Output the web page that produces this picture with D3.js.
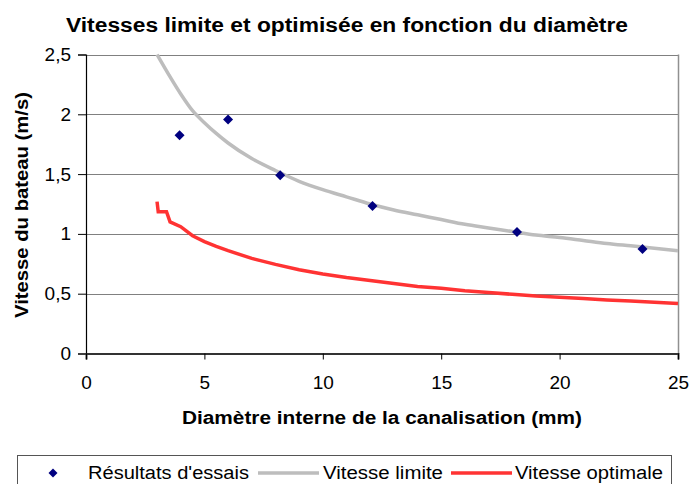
<!DOCTYPE html>
<html><head><meta charset="utf-8">
<script src="https://cdn.jsdelivr.net/npm/d3@7"></script>
<style>body{margin:0;background:#fff}svg{display:block;font-family:"Liberation Sans",Arial,sans-serif}</style>
</head><body><svg id="c" width="690" height="484"></svg>
<script>
const essaisD = [3.95, 6.0, 8.2, 12.1, 18.2, 23.5];
const essaisV = [1.825, 1.956, 1.49, 1.233, 1.016, 0.874];
const limiteD = [3, 3.5, 4, 4.5, 5, 5.5, 6, 7, 8, 9, 10, 11, 12, 13, 14, 15, 16, 17, 18, 19, 20, 21, 22, 23, 24, 25];
const limiteV = [2.5, 2.33, 2.17, 2.03, 1.93, 1.84, 1.76, 1.63, 1.53, 1.44, 1.37, 1.31, 1.25, 1.2, 1.16, 1.12, 1.08, 1.05, 1.02, 0.99, 0.97, 0.945, 0.92, 0.9, 0.88, 0.86];
const optD = [3, 3.05, 3.4, 3.55, 4, 4.5, 5, 5.5, 6, 7, 8, 9, 10, 11, 12, 13, 14, 15, 16, 17, 18, 19, 20, 21, 22, 23, 24, 25];
const optV = [1.27, 1.185, 1.185, 1.10, 1.06, 0.985, 0.935, 0.895, 0.86, 0.795, 0.745, 0.70, 0.665, 0.635, 0.61, 0.585, 0.56, 0.545, 0.525, 0.51, 0.495, 0.48, 0.47, 0.46, 0.448, 0.438, 0.428, 0.418];
const xTicks = [0, 5, 10, 15, 20, 25];
const yTicks = [0, 0.5, 1, 1.5, 2, 2.5];
const labels = {title: "Vitesses limite et optimisée en fonction du diamètre", x: "Diamètre interne de la canalisation (mm)", y: "Vitesse du bateau (m/s)", legend: ["Résultats d'essais", "Vitesse limite", "Vitesse optimale"]};

const svg = d3.select("#c");
const L = 86, R = 678, T = 54.5, B = 353.5;
const x = d3.scaleLinear().domain([0, 25]).range([L, R]);
const y = d3.scaleLinear().domain([0, 2.5]).range([B, T]);
const fmt = v => String(v).replace(".", ",");
const FONT = "Liberation Sans, Arial, sans-serif";

// gridlines
svg.append("g").selectAll("line").data(yTicks.filter(v => v > 0)).join("line")
  .attr("x1", L).attr("x2", R).attr("y1", d => Math.round(y(d)) + 0.5).attr("y2", d => Math.round(y(d)) + 0.5)
  .attr("stroke", "#808080").attr("stroke-width", 1);
// right border
svg.append("line").attr("x1", R + 0.5).attr("x2", R + 0.5).attr("y1", T).attr("y2", B).attr("stroke", "#909090").attr("stroke-width", 1.5);

// axes
const yAxis = svg.append("g").attr("transform", `translate(${L},0)`)
  .call(d3.axisLeft(y).tickValues(yTicks).tickFormat(fmt).tickSize(8).tickPadding(7));
const xAxis = svg.append("g").attr("transform", `translate(0,${B})`)
  .call(d3.axisBottom(x).tickValues(xTicks).tickFormat(fmt).tickSize(6).tickPadding(16));
[yAxis, xAxis].forEach(a => {
  a.select(".domain").attr("stroke", "#000");
  a.selectAll(".tick line").attr("stroke", "#000");
  a.selectAll("text").attr("font-size", 19).attr("fill", "#000").attr("font-family", FONT);
});
xAxis.select(".domain").attr("stroke", "#333").attr("stroke-width", 2);
yAxis.select(".domain").attr("stroke-width", 1.2);

// lines
const line = d3.line().x(d => x(d[0])).y(d => y(d[1])).curve(d3.curveMonotoneX);
svg.append("path").datum(limiteD.map((d, i) => [d, limiteV[i]]))
  .attr("d", line).attr("fill", "none").attr("stroke", "#bdbdbd").attr("stroke-width", 3.5);
svg.append("path").datum(optD.map((d, i) => [d, optV[i]]))
  .attr("d", d3.line().x(d => x(d[0])).y(d => y(d[1]))).attr("fill", "none").attr("stroke", "#ff3333").attr("stroke-width", 3.5);

// diamonds
const diamond = s => `M0,${-s}L${s},0L0,${s}L${-s},0Z`;
svg.append("g").selectAll("path").data(essaisD.map((d, i) => [d, essaisV[i]])).join("path")
  .attr("transform", d => `translate(${x(d[0])},${y(d[1])})`)
  .attr("d", diamond(5)).attr("fill", "#000080");

// titles
function fitText(sel, len) { return sel.attr("textLength", len).attr("lengthAdjust", "spacingAndGlyphs"); }
fitText(svg.append("text").attr("x", 66).attr("y", 32)
  .attr("font-size", 20).attr("font-weight", "bold").text(labels.title), 562);
fitText(svg.append("text").attr("x", 182).attr("y", 424)
  .attr("font-size", 18).attr("font-weight", "bold").text(labels.x), 400);
fitText(svg.append("text").attr("transform", `translate(28,${205}) rotate(-90)`).attr("x", -113)
  .attr("font-size", 18).attr("font-weight", "bold").text(labels.y), 226);

// legend
svg.append("rect").attr("x", 17.5).attr("y", 455.5).attr("width", 654).attr("height", 40)
  .attr("fill", "#fff").attr("stroke", "#555").attr("stroke-width", 1);
const ly = 473;
svg.append("path").attr("transform", `translate(53,${ly})`).attr("d", diamond(4.5)).attr("fill", "#000080");
fitText(svg.append("text").attr("x", 88).attr("y", ly + 5.5).attr("font-size", 18).text(labels.legend[0]), 161);
svg.append("line").attr("x1", 258).attr("x2", 319).attr("y1", ly).attr("y2", ly).attr("stroke", "#bdbdbd").attr("stroke-width", 3.5);
fitText(svg.append("text").attr("x", 323).attr("y", ly + 5.5).attr("font-size", 18).text(labels.legend[1]), 120);
svg.append("line").attr("x1", 451).attr("x2", 512).attr("y1", ly).attr("y2", ly).attr("stroke", "#ff3333").attr("stroke-width", 3.5);
fitText(svg.append("text").attr("x", 515).attr("y", ly + 5.5).attr("font-size", 18).text(labels.legend[2]), 148);
</script></body></html>
